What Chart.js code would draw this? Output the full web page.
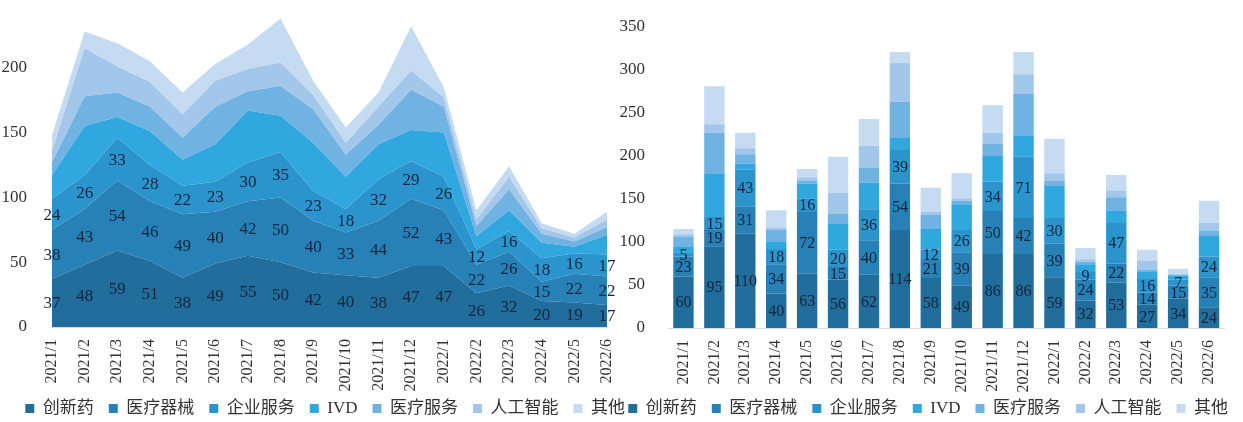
<!DOCTYPE html>
<html lang="zh-CN">
<head>
<meta charset="utf-8">
<title>医疗健康融资事件数与融资金额</title>
<script src="https://cdn.jsdelivr.net/npm/chart.js@4.4.1/dist/chart.umd.min.js"></script>
<style>
  html, body { margin: 0; padding: 0; background: #fff; overflow: hidden; }
  #wrap { position: relative; width: 1243px; height: 422px; overflow: hidden; }
  .panel { position: absolute; top: 0; }
  #left { left: 0; }
  #right { left: 611px; }
</style>
</head>
<body>
<div id="wrap">
  <div class="panel" id="left"><canvas id="countChart" width="640" height="435"></canvas></div>
  <div class="panel" id="right"><canvas id="amountChart" width="632" height="435"></canvas></div>
</div>
<script>
const months = ['2021/1', '2021/2', '2021/3', '2021/4', '2021/5', '2021/6', '2021/7', '2021/8', '2021/9',
  '2021/10', '2021/11', '2021/12', '2022/1', '2022/2', '2022/3', '2022/4', '2022/5', '2022/6'];
const seriesNames = ['创新药', '医疗器械', '企业服务', 'IVD', '医疗服务', '人工智能', '其他'];
const seriesColors = ['#216d9b', '#2781b7', '#2c94cd', '#30a8df', '#70b2e1', '#a2c7ea', '#c4dbf1'];

// 融资事件数（起）
const countDrug    = [37, 48, 59, 51, 38, 49, 55, 50, 42, 40, 38, 47, 47, 26, 32, 20, 19, 17];
const countDevice  = [38, 43, 54, 46, 49, 40, 42, 50, 40, 33, 44, 52, 43, 22, 26, 15, 22, 22];
const countService = [24, 26, 33, 28, 22, 23, 30, 35, 23, 18, 32, 29, 26, 12, 16, 18, 16, 17];
const countIVD     = [18, 38, 16, 26, 20, 29, 40, 28, 37, 25, 27, 24, 34, 10, 16, 12, 5, 15];
const countMedical = [10, 23, 19, 19, 17, 29, 15, 23, 26, 17, 15, 31, 20, 8, 16, 7, 4, 6];
const countAI      = [9, 37, 20, 19, 18, 20, 17, 18, 11, 9, 14, 15, 7, 5, 10, 4, 3, 6];
const countOther   = [12, 13, 18, 16, 17, 13, 19, 34, 11, 12, 11, 34, 8, 7, 8, 4, 3, 6];
const countTicks   = [0, 50, 100, 150, 200];

// 融资金额（亿元）
const amountDrug    = [60, 95, 110, 40, 63, 56, 62, 114, 58, 49, 86, 86, 59, 32, 53, 27, 34, 24];
const amountDevice  = [23, 19, 31, 34, 72, 15, 40, 54, 21, 39, 50, 42, 39, 24, 22, 14, 15, 35];
const amountService = [5, 15, 43, 18, 16, 20, 36, 39, 12, 26, 34, 71, 30, 9, 47, 16, 7, 24];
const amountIVD     = [7, 50, 7, 9, 17, 30, 31, 14, 24, 30, 30, 25, 37, 9, 14, 9, 5, 24];
const amountMedical = [11, 48, 11, 13, 3, 12, 17, 42, 17, 4, 14, 48, 6, 3, 16, 2, 1, 6];
const amountAI      = [3, 10, 7, 3, 4, 24, 26, 45, 3, 3, 13, 23, 9, 3, 8, 10, 1, 9];
const amountOther   = [6, 44, 18, 20, 10, 42, 31, 13, 28, 29, 32, 26, 40, 13, 18, 13, 6, 26];
const amountTicks   = [0, 50, 100, 150, 200, 250, 300, 350];

const SERIF = "'Liberation Serif', 'Times New Roman', serif";
const LEGEND_FONT = "'Liberation Serif', 'Noto Sans CJK SC', sans-serif";

// numbers in the middle of each stacked segment, for datasets flagged showValue
const segmentValues = {
  id: 'segmentValues',
  afterDatasetsDraw(chart, args, opts) {
    const { ctx } = chart;
    const yScale = chart.scales.y;
    ctx.save();
    ctx.font = opts.size + 'px ' + SERIF;
    ctx.fillStyle = '#17263c';
    ctx.textAlign = 'center';
    ctx.textBaseline = 'middle';
    chart.data.datasets.forEach((ds, di) => {
      if (!ds.showValue) return;
      const meta = chart.getDatasetMeta(di);
      meta.data.forEach((el, i) => {
        let base = el.base;
        if (base === undefined) {
          base = di > 0 ? chart.getDatasetMeta(di - 1).data[i].y : yScale.getPixelForValue(0);
        }
        ctx.fillText(String(ds.data[i]), el.x, (el.y + base) / 2 + 1);
      });
    });
    ctx.restore();
  }
};

// the month labels are short at both ends, so the legend sits a little higher
const raiseLegend = {
  id: 'raiseLegend',
  afterLayout(chart, args, opts) {
    chart.legend.top -= opts.by;
    chart.legend.bottom -= opts.by;
  }
};

function xAxis(rightPad, height) {
  return {
    grid: { display: false, drawTicks: false },
    border: { display: true, color: '#d9d9d9' },
    ticks: {
      autoSkip: false, minRotation: 90, maxRotation: 90, padding: 12,
      color: '#333', font: { family: SERIF, size: 16 }
    },
    afterFit(s) { s.paddingRight = rightPad; s.height = height; }
  };
}

function legendOpts() {
  return {
    position: 'bottom',
    align: 'end',
    labels: {
      boxWidth: 9, boxHeight: 9, padding: 15,
      color: '#333', font: { family: LEGEND_FONT, size: 17 }
    }
  };
}

const countSeries = [countDrug, countDevice, countService, countIVD, countMedical, countAI, countOther];
const amountSeries = [amountDrug, amountDevice, amountService, amountIVD, amountMedical, amountAI, amountOther];

// left: stacked area of deal counts
new Chart(document.getElementById('countChart'), {
  type: 'line',
  data: {
    labels: months,
    datasets: countSeries.map((values, i) => ({
      label: seriesNames[i],
      data: values,
      backgroundColor: seriesColors[i],
      borderColor: seriesColors[i],
      borderWidth: 0,
      pointRadius: 0,
      tension: 0,
      fill: i === 0 ? 'origin' : '-1',
      showValue: i < 3
    }))
  },
  options: {
    responsive: false,
    animation: false,
    layout: { padding: { top: 3 } },
    plugins: {
      legend: legendOpts(),
      tooltip: { enabled: false },
      segmentValues: { size: 17 },
      raiseLegend: { by: 8 }
    },
    scales: {
      x: xAxis(33, 66),
      y: {
        stacked: true, min: 0, max: 250,
        grid: { display: false }, border: { display: false },
        afterBuildTicks(s) { s.ticks = countTicks.map(v => ({ value: v })); },
        ticks: { padding: 17, color: '#333', font: { family: SERIF, size: 17 } },
        afterFit(s) { s.width = 52; s.paddingTop = 0; }
      }
    }
  },
  plugins: [segmentValues, raiseLegend]
});

// right: stacked bars of amounts
new Chart(document.getElementById('amountChart'), {
  type: 'bar',
  data: {
    labels: months,
    datasets: amountSeries.map((values, i) => ({
      label: seriesNames[i],
      data: values,
      backgroundColor: seriesColors[i],
      borderWidth: 0,
      barPercentage: 0.66,
      categoryPercentage: 1,
      showValue: i < 3
    }))
  },
  options: {
    responsive: false,
    animation: false,
    layout: { padding: { top: 27 } },
    plugins: {
      legend: legendOpts(),
      tooltip: { enabled: false },
      segmentValues: { size: 16 },
      raiseLegend: { by: 8 }
    },
    scales: {
      x: Object.assign(xAxis(18.5, 65), { stacked: true }),
      y: {
        stacked: true, min: 0, max: 350,
        grid: { display: false }, border: { display: false },
        afterBuildTicks(s) { s.ticks = amountTicks.map(v => ({ value: v })); },
        ticks: { padding: 15, color: '#333', font: { family: SERIF, size: 17 } },
        afterFit(s) { s.width = 57; }
      }
    }
  },
  plugins: [segmentValues, raiseLegend]
});
</script>
</body>
</html>
